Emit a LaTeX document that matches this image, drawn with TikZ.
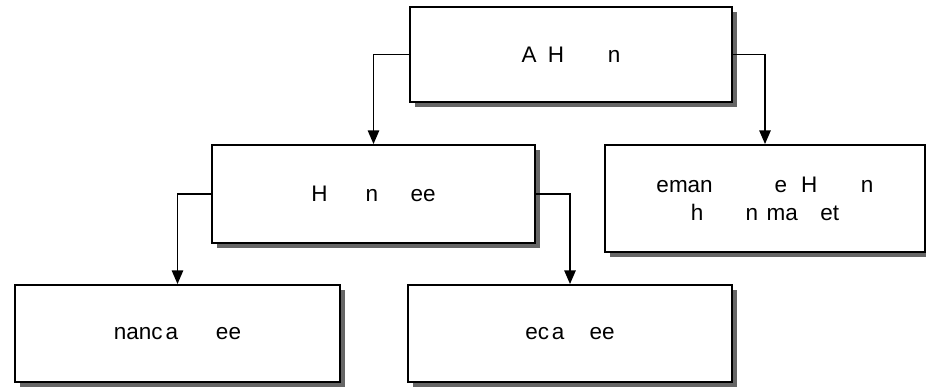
\documentclass[tikz,border=0pt]{standalone}
\usepackage{fontspec}
\setmainfont{Liberation Sans}
\usetikzlibrary{arrows.meta,shadows}

\begin{document}
\begin{tikzpicture}[>={Triangle[width=0.28cm,length=0.34cm]},
  block/.style={rectangle, draw, line width=1.3pt, fill=white, align=center, font=\fontsize{16}{20}\selectfont,
    drop shadow={shadow xshift=0.12cm, shadow yshift=-0.12cm, fill=black!60, opacity=1}},
  arrow/.style={->, line width=1.3pt}]

  \useasboundingbox (0,0) rectangle (23.15,9.7);

  % Top level
  \node[block, minimum width=8.05cm, minimum height=2.375cm] (top) at (14.275,8.3375) {A\hspace{8pt}H\hspace{31pt}n};

  % Second level
  \node[block, minimum width=8.075cm, minimum height=2.45cm] (mid) at (9.3375,4.85) {H\hspace{27pt}n\hspace{23pt}ee};
  \node[block, minimum width=8.0cm, minimum height=2.675cm] (right) at (19.125,4.7375) {eman\hspace{44pt}e\hspace{10pt}H\hspace{31pt}n\\h\hspace{30pt}n\hspace{6pt}ma\hspace{16pt}et};

  % Third level
  \node[block, minimum width=8.125cm, minimum height=2.425cm] (botl) at (4.4375,1.3625) {nanc\hspace{2pt}a\hspace{27pt}ee};
  \node[block, minimum width=8.1cm, minimum height=2.425cm] (botm) at (14.25,1.3625) {ec\hspace{2pt}a\hspace{18pt}ee};

  % Arrows
  \draw[arrow] (top.west) -| (mid.north);
  \draw[arrow] (top.east) -| (right.north);
  \draw[arrow] (mid.west) -| (botl.north);
  \draw[arrow] (mid.east) -| (botm.north);

\end{tikzpicture}
\end{document}
